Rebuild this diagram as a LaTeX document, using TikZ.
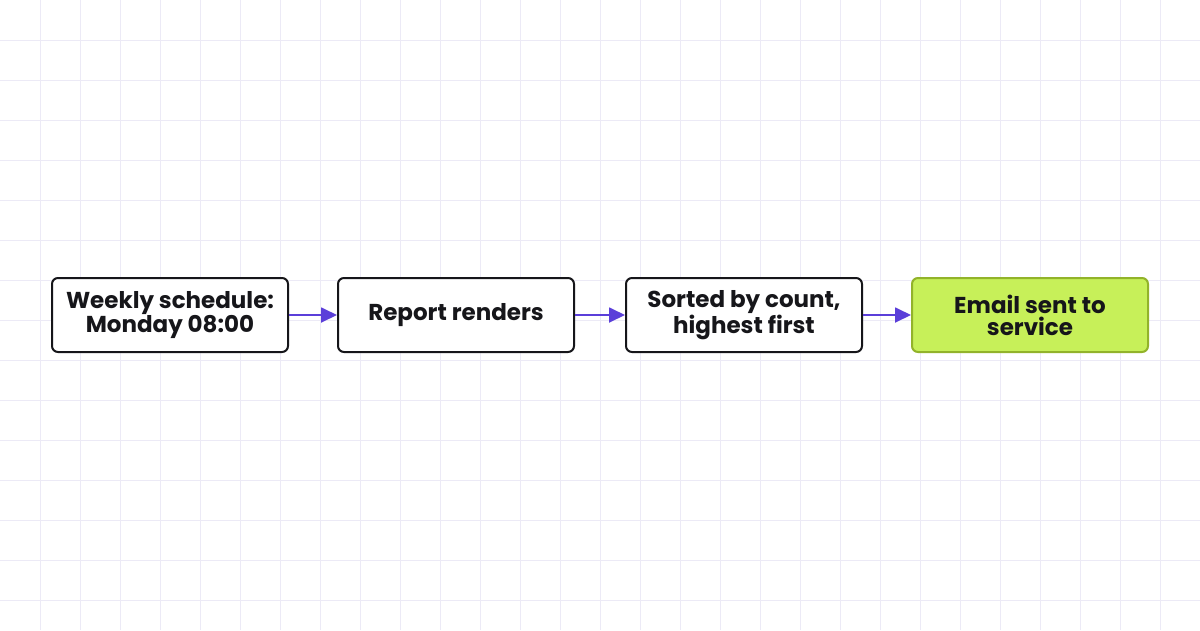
\documentclass[tikz,border=0pt]{standalone}
\usepackage{fontspec}
\setmainfont{Poppins}
\usetikzlibrary{arrows.meta}
\definecolor{gridc}{HTML}{ECEAF6}
\definecolor{arr}{HTML}{5B3FD9}
\definecolor{green}{HTML}{C7F059}
\definecolor{greenb}{HTML}{92B32A}
\definecolor{txt}{HTML}{16161A}
\begin{document}
\begin{tikzpicture}[x=1pt,y=-1pt,
 box/.style={draw=txt,line width=2pt,rounded corners=6pt,fill=white,minimum width=236pt,minimum height=74pt,align=center,text=txt,font=\fontsize{23}{22}\selectfont\bfseries,inner sep=0pt},
 conn/.style={draw=arr,line width=1.8pt,-{Triangle[length=16pt,width=15pt]}}]
\useasboundingbox (0,0) rectangle (1200,630);
\fill[white] (0,0) rectangle (1200,630);
\foreach \x in {40,80,...,1160} \draw[gridc,line width=0.8pt] (\x,0)--(\x,630);
\foreach \y in {40,80,...,600} \draw[gridc,line width=0.8pt] (0,\y)--(1200,\y);
\node[box] (a) at (170,315) {Weekly schedule:\\Monday 08:00};
\node[box] (b) at (456,315) {Report renders};
\node[box] (c) at (744,315) {Sorted by count,\\highest first};
\node[box,fill=green,draw=greenb] (d) at (1030,315) {Email sent to\\service};
\draw[conn] (a) -- (b);
\draw[conn] (b) -- (c);
\draw[conn] (c) -- (d);
\end{tikzpicture}
\end{document}
